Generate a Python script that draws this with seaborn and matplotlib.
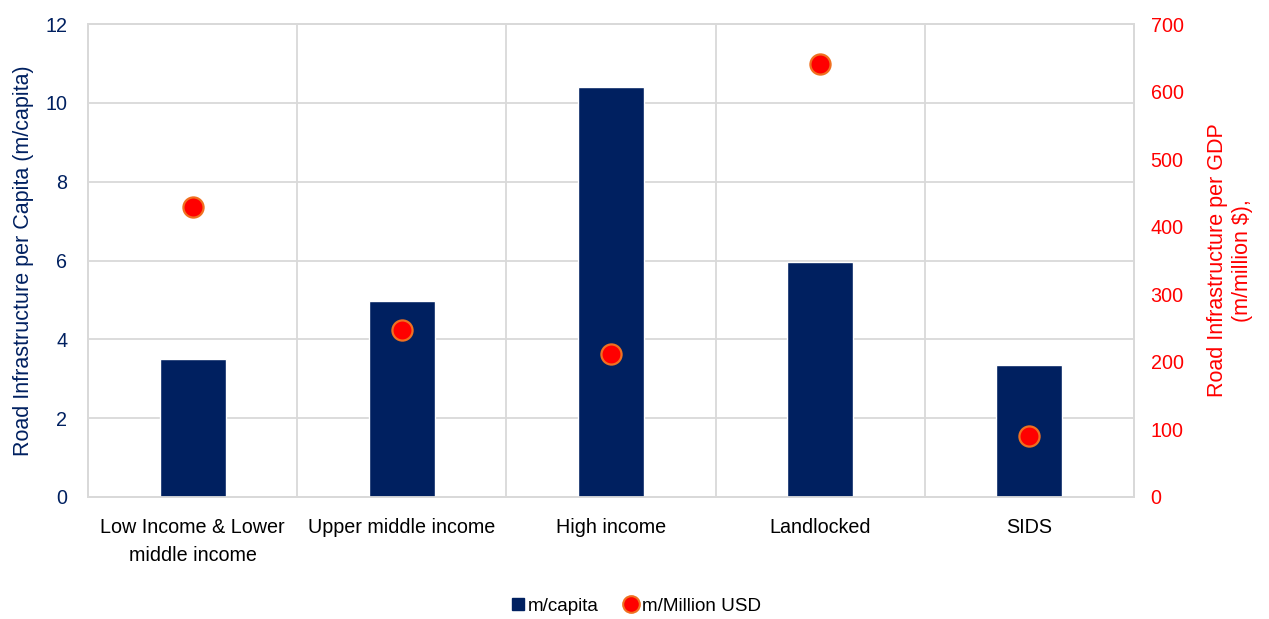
import matplotlib
matplotlib.use("Agg")
import matplotlib.pyplot as plt
import seaborn as sns
import pandas as pd
import numpy as np
from matplotlib.lines import Line2D

categories = ["Low Income & Lower\nmiddle income", "Upper middle income", "High income", "Landlocked", "SIDS"]
m_per_capita = [3.5, 4.97, 10.4, 5.96, 3.35]
m_per_million_usd = [429, 247, 212, 641, 90]

left_ticks = [0, 2, 4, 6, 8, 10, 12]
right_ticks = [0, 100, 200, 300, 400, 500, 600, 700]

sns.set_theme(style="white")
plt.rcParams['font.family'] = ['Liberation Sans', 'DejaVu Sans']

navy = "#002060"
red = "#ff0000"
grid_c = "#d9d9d9"
fs = 14.2
lfs = 15.5

df = pd.DataFrame({"cat": categories, "cap": m_per_capita, "usd": m_per_million_usd})

fig = plt.figure(figsize=(12.69, 6.19), dpi=100)
ax = fig.add_axes([88/1269, 122/619, (1134-88)/1269, 473/619])

sns.barplot(data=df, x="cat", y="cap", order=categories, color=navy, width=0.316,
            saturation=1, ax=ax, zorder=3)
ax.set_ylim(0, 12)
ax.set_yticks(left_ticks)
ax.set_xlim(-0.5, len(categories) - 0.5)
ax.set_xlabel("")
ax.set_ylabel("Road Infrastructure per Capita (m/capita)", color=navy, fontsize=lfs, labelpad=8)
ax.tick_params(axis="y", colors=navy, labelsize=fs, length=0, pad=15)
ax.tick_params(axis="x", colors="black", labelsize=fs, length=0, pad=15)
for lab in ax.get_xticklabels():
    lab.set_color("black")
    lab.set_linespacing(1.6)
ax.yaxis.grid(True, color=grid_c, linewidth=1.3, zorder=0)
for b in np.arange(0.5, len(categories) - 0.5, 1.0):
    ax.axvline(b, color=grid_c, linewidth=1.3, zorder=0)
ax.set_axisbelow(True)
for s in ax.spines.values():
    s.set_color(grid_c)
    s.set_linewidth(1.3)

ax2 = ax.twinx()
sns.stripplot(data=df, x="cat", y="usd", order=categories, jitter=False, ax=ax2,
              color=red, size=14.5, linewidth=1.6, edgecolor="#f07020", zorder=5)
ax2.set_xlim(-0.5, len(categories) - 0.5)
ax2.set_ylim(0, 700)
ax2.set_yticks(right_ticks)
ax2.set_ylabel("Road Infrastructure per GDP\n(m/million $),", color=red, fontsize=lfs,
               labelpad=17, linespacing=1.25)
ax2.tick_params(axis="y", colors=red, labelsize=fs, length=0, pad=12)
for s in ax2.spines.values():
    s.set_color(grid_c)
    s.set_linewidth(1.3)

handles = [
    Line2D([], [], marker="s", linestyle="none", markerfacecolor=navy, markeredgecolor=navy, markersize=8),
    Line2D([], [], marker="o", linestyle="none", markerfacecolor=red, markeredgecolor="#f07020",
           markeredgewidth=1.5, markersize=12),
]
fig.legend(handles, ["m/capita", "m/Million USD"], loc="center", bbox_to_anchor=(0.5, 1 - 606/619),
           ncol=2, frameon=False, fontsize=13.6, handletextpad=0.05, columnspacing=1.2,
           handlelength=1.0, labelcolor="black")

fig.savefig("out.png", dpi=100)
